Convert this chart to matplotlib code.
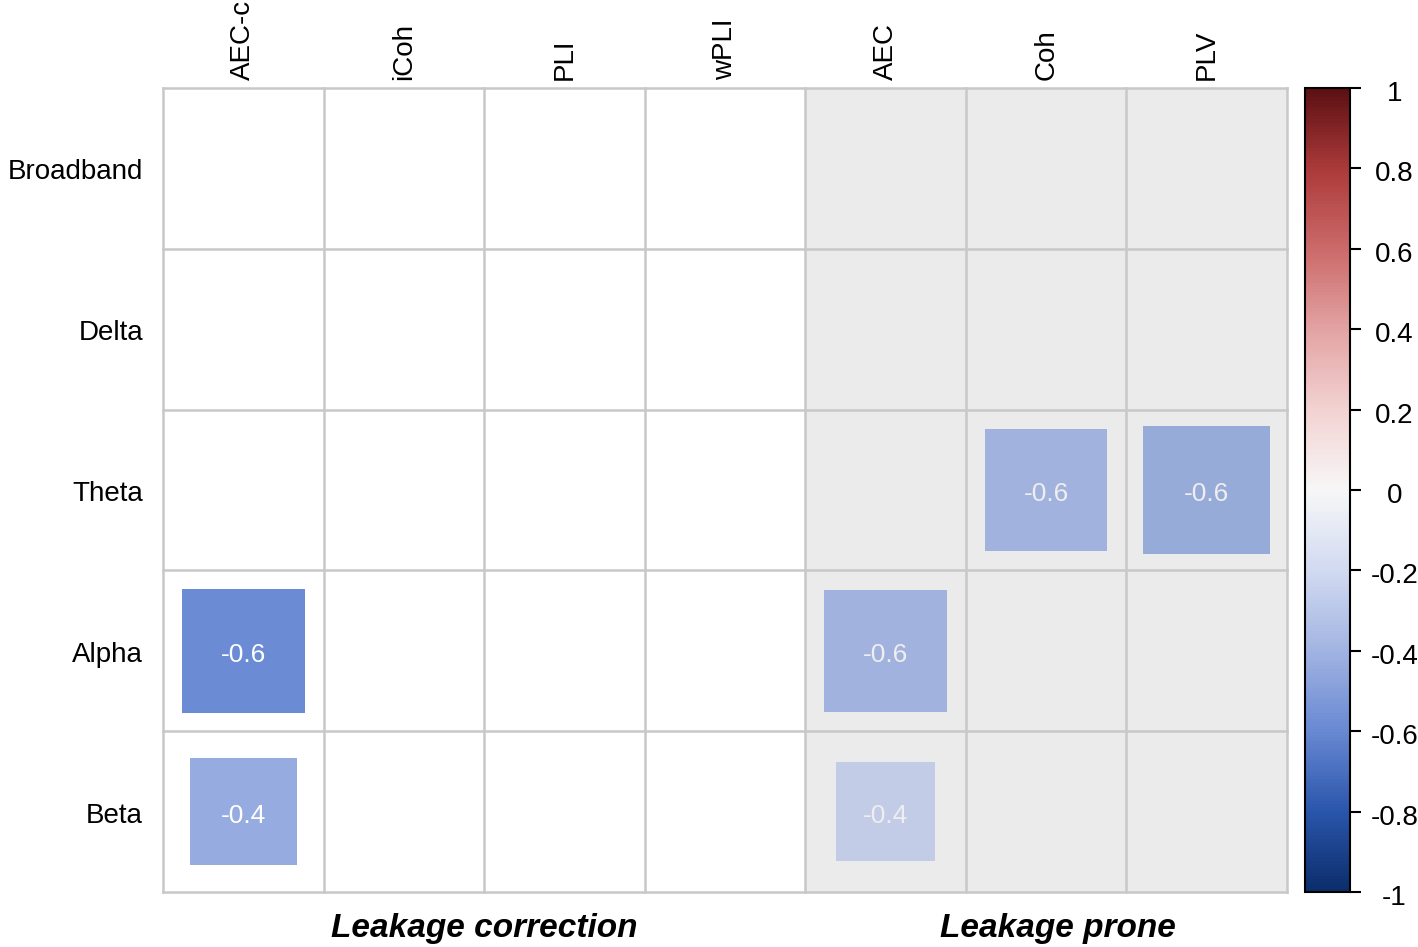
import numpy as np
import matplotlib
matplotlib.use("Agg")
from matplotlib import pyplot as plt
from matplotlib.patches import Rectangle
from matplotlib.colors import LinearSegmentedColormap, Normalize, to_rgb
from matplotlib.cm import ScalarMappable
from matplotlib.transforms import ScaledTranslation

plt.rcParams['font.family'] = ['Liberation Sans', 'DejaVu Sans']

bands = ['Broadband', 'Delta', 'Theta', 'Alpha', 'Beta']
metrics = ['AEC-c', 'iCoh', 'PLI', 'wPLI', 'AEC', 'Coh', 'PLV']
groups = ['Leakage correction', 'Leakage prone']
group_cols = [[0, 1, 2, 3], [4, 5, 6]]

# correlations (0 = nothing drawn)
broadband = [0, 0, 0, 0, 0, 0, 0]
delta = [0, 0, 0, 0, 0, 0, 0]
theta = [0, 0, 0, 0, 0, -0.58, -0.63]
alpha = [-0.59, 0, 0, 0, -0.58, 0, 0]
beta = [-0.44, 0, 0, 0, -0.38, 0, 0]
corr = np.array([broadband, delta, theta, alpha, beta])
labels = [['', '', '', '', '', '', ''],
          ['', '', '', '', '', '', ''],
          ['', '', '', '', '', '-0.6', '-0.6'],
          ['-0.6', '', '', '', '-0.6', '', ''],
          ['-0.4', '', '', '', '-0.4', '', '']]

cbar_ticks = [-1, -0.8, -0.6, -0.4, -0.2, 0, 0.2, 0.4, 0.6, 0.8, 1]

cmap = LinearSegmentedColormap.from_list('rb', [
    (0.0, '#0b2d6a'), (0.1, '#2a56ac'), (0.2, '#6989d3'), (0.3, '#a2b4e2'),
    (0.4, '#d2daf1'), (0.5, '#f7f7f7'), (0.6, '#f3d2d2'), (0.7, '#e3a3a3'),
    (0.8, '#cc6a6a'), (0.9, '#ac3a3a'), (1.0, '#5c1012')])
norm = Normalize(-1, 1)

fig = plt.figure(figsize=(14.18, 9.47), dpi=100)
ax = fig.add_axes([163/1418, 1-892/947, 1124/1418, 804/947])
ax.set_xlim(0, 7)
ax.set_ylim(5, 0)
ax.axis('off')

gray = '#ebebeb'
ax.add_patch(Rectangle((4, 0), 3, 5, facecolor=gray, edgecolor='none', zorder=0))
for x in range(8):
    ax.plot([x, x], [0, 5], color='#c8c8c8', lw=1.8, zorder=1, clip_on=False)
for y in range(6):
    ax.plot([0, 7], [y, y], color='#c8c8c8', lw=1.8, zorder=1, clip_on=False)

for i in range(len(bands)):
    for j in range(len(metrics)):
        v = corr[i, j]
        if v == 0:
            continue
        s = np.sqrt(abs(v))
        c = np.array(cmap(norm(v))[:3])
        tcol = 'white'
        if j >= 4:
            c = 0.6 * c + 0.4 * np.array(to_rgb(gray))
            tcol = '#eeeeee'
        ax.add_patch(Rectangle((j + 0.5 - s/2, i + 0.5 - s/2), s, s,
                               facecolor=c, edgecolor='none', zorder=2))
        ax.annotate(labels[i][j], (j + 0.5, i + 0.5), xytext=(0, -4),
                    textcoords='offset pixels', color=tcol, fontsize=19,
                    ha='center', va='center', zorder=3)

for i, b in enumerate(bands):
    ax.annotate(b, (0, i + 0.5), xytext=(-20, -4), textcoords='offset pixels',
                ha='right', va='center', fontsize=20)
for j, m in enumerate(metrics):
    ax.annotate(m, (j + 0.5, 0), xytext=(0, 8), textcoords='offset pixels',
                ha='center', va='bottom', rotation=90, fontsize=20,
                annotation_clip=False)
for k, (g, cols) in enumerate(zip(groups, group_cols)):
    ax.annotate(g, (np.mean(cols) + 0.5, 5), xytext=(12 * k, -36),
                textcoords='offset pixels', ha='center', va='center',
                fontsize=24, fontweight='bold', fontstyle='italic',
                annotation_clip=False)

cax = fig.add_axes([1305/1418, 1-892/947, 45/1418, 804/947])
cb = fig.colorbar(ScalarMappable(norm=norm, cmap=cmap), cax=cax)
cb.set_ticks(cbar_ticks)
cb.set_ticklabels(['%g' % t for t in cbar_ticks])
cb.outline.set_linewidth(1.5)
cax.tick_params(length=8, width=1.5, labelsize=20, pad=24)
shift = ScaledTranslation(0, -3/100, fig.dpi_scale_trans)
for lab in cax.get_yticklabels():
    lab.set_horizontalalignment('center')
    lab.set_transform(lab.get_transform() + shift)

fig.savefig('out.png', dpi=100)
